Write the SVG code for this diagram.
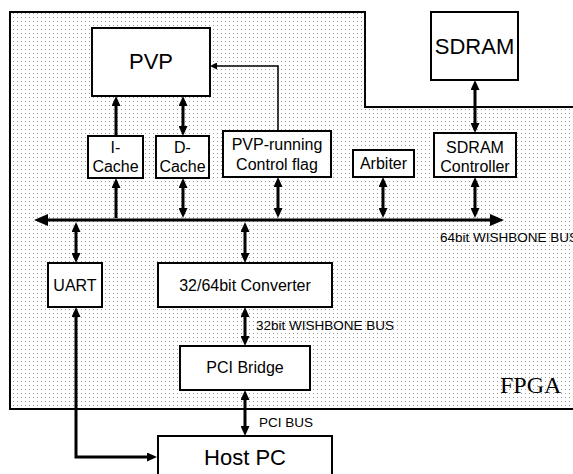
<svg xmlns="http://www.w3.org/2000/svg" width="573" height="474" viewBox="0 0 573 474">
<style>
.box{fill:#fff;stroke:#000;stroke-width:2}
.t{font-family:"Liberation Sans",Arial,sans-serif;fill:#000;text-anchor:middle}
.big{font-size:22px}
.lbl{font-size:16px}
.bus{font-size:13.5px;text-anchor:start}
.c{stroke:#000;stroke-width:3;fill:none}
</style>
<defs>
<pattern id="dots" width="4" height="4" patternUnits="userSpaceOnUse">
<rect width="4" height="4" fill="#fff"/>
<rect x="1" y="1" width="1" height="1" fill="#9a9a9a"/>
</pattern>
<marker id="ah" markerUnits="userSpaceOnUse" markerWidth="10" markerHeight="9" refX="1" refY="4.5" orient="auto-start-reverse">
<path d="M0,0 L10,4.5 L0,9 z" fill="#000"/>
</marker>
<marker id="bh" markerUnits="userSpaceOnUse" markerWidth="14" markerHeight="12" refX="1" refY="6" orient="auto-start-reverse">
<path d="M0,0 L14,6 L0,12 z" fill="#000"/>
</marker>
<marker id="sh" markerUnits="userSpaceOnUse" markerWidth="7" markerHeight="7" refX="1" refY="3.5" orient="auto">
<path d="M0,0 L7,3.5 L0,7 z" fill="#000"/>
</marker>
</defs>
<rect width="573" height="474" fill="#fff"/>
<g id="fpga">
<path d="M10,12 H365 V107 H580 V409 H10 Z" fill="url(#dots)" stroke="#000" stroke-width="2"/>
<text x="500" y="393" font-family="'Liberation Serif','Times New Roman',serif" font-size="24">FPGA</text>
</g>
<g id="connectors">
<line class="c" x1="47" y1="220" x2="491" y2="220" stroke-width="4" marker-start="url(#bh)" marker-end="url(#bh)"/>
<text class="t bus" x="440" y="242">64bit WISHBONE BUS</text>
<line class="c" x1="116" y1="136" x2="116" y2="105" marker-end="url(#ah)"/>
<line class="c" x1="116" y1="218" x2="116" y2="187" marker-end="url(#ah)"/>
<line class="c" x1="183" y1="127" x2="183" y2="105" marker-start="url(#ah)" marker-end="url(#ah)"/>
<line class="c" x1="183" y1="209" x2="183" y2="187" marker-start="url(#ah)" marker-end="url(#ah)"/>
<polyline points="278,131 278,66 216,66" stroke="#000" stroke-width="1.5" fill="none" marker-end="url(#sh)"/>
<line class="c" x1="278" y1="209" x2="278" y2="186" marker-start="url(#ah)" marker-end="url(#ah)"/>
<line class="c" x1="383" y1="209" x2="383" y2="186" marker-start="url(#ah)" marker-end="url(#ah)"/>
<line class="c" x1="475" y1="209" x2="475" y2="186" marker-start="url(#ah)" marker-end="url(#ah)"/>
<line class="c" x1="475" y1="124" x2="475" y2="89" marker-start="url(#ah)" marker-end="url(#ah)"/>
<line class="c" x1="76" y1="231" x2="76" y2="254" marker-start="url(#ah)" marker-end="url(#ah)"/>
<line class="c" x1="245" y1="231" x2="245" y2="254" marker-start="url(#ah)" marker-end="url(#ah)"/>
<line class="c" x1="245" y1="316" x2="245" y2="337" marker-start="url(#ah)" marker-end="url(#ah)"/>
<text class="t bus" x="256" y="330">32bit WISHBONE BUS</text>
<line class="c" x1="245" y1="399" x2="245" y2="427" marker-start="url(#ah)" marker-end="url(#ah)"/>
<text class="t bus" x="259" y="427">PCI BUS</text>
<polyline class="c" points="76,316 76,457 148,457" marker-start="url(#ah)" marker-end="url(#ah)"/>
</g>
<g id="pvp"><rect class="box" x="92" y="28" width="118" height="68"/><text class="t big" x="151" y="69">PVP</text></g>
<g id="sdram"><rect class="box" x="431" y="12" width="87" height="68"/><text class="t big" x="474.5" y="54">SDRAM</text></g>
<g id="icache"><rect class="box" x="88" y="136" width="55" height="42"/><text class="t lbl" x="115.5" y="153">I-</text><text class="t lbl" x="115.5" y="172">Cache</text></g>
<g id="dcache"><rect class="box" x="156" y="136" width="53" height="42"/><text class="t lbl" x="182.5" y="153">D-</text><text class="t lbl" x="182.5" y="172">Cache</text></g>
<g id="pvprun"><rect class="box" x="223" y="131" width="108" height="46"/><text class="t lbl" x="277" y="150">PVP-running</text><text class="t lbl" x="277" y="170">Control flag</text></g>
<g id="arbiter"><rect class="box" x="353" y="150" width="61" height="27"/><text class="t lbl" x="383.5" y="169">Arbiter</text></g>
<g id="sdramctrl"><rect class="box" x="434" y="133" width="82" height="44"/><text class="t lbl" x="475" y="153">SDRAM</text><text class="t lbl" x="475" y="172">Controller</text></g>
<g id="uart"><rect class="box" x="48" y="263" width="54" height="44"/><text class="t lbl" x="75" y="291">UART</text></g>
<g id="converter"><rect class="box" x="158" y="263" width="174" height="44"/><text class="t lbl" x="245" y="291">32/64bit Converter</text></g>
<g id="pcibridge"><rect class="box" x="180" y="346" width="130" height="44"/><text class="t lbl" x="245" y="373">PCI Bridge</text></g>
<g id="hostpc"><rect class="box" x="158" y="436" width="174" height="50"/><text class="t big" x="245" y="465">Host PC</text></g>
</svg>
